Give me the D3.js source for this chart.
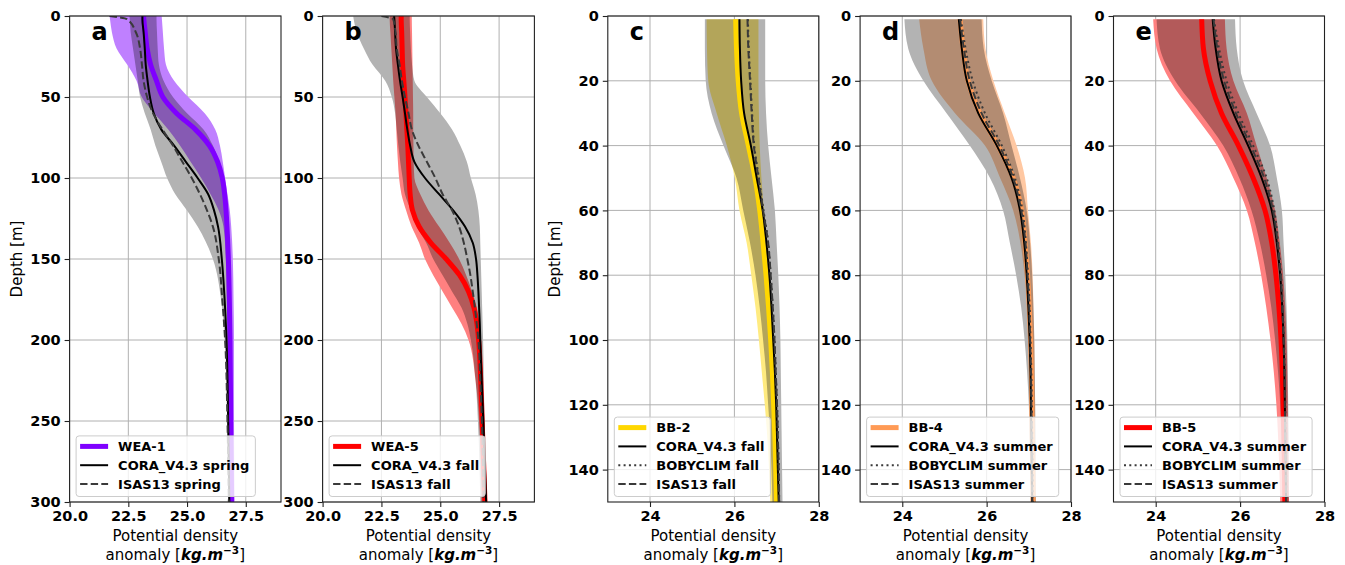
<!DOCTYPE html>
<html><head><meta charset="utf-8">
<script src="https://cdn.jsdelivr.net/npm/d3@7"></script>
<style>
body{margin:0;background:#fff;}
svg text{font-family:"DejaVu Sans",sans-serif;}
</style></head><body>
<svg id="chart" width="1345" height="565"></svg>
<script>
// ---------------- DATA ----------------
// Panels a & b: x 20–29, depth 0–300
const xTicksAB = [20, 22.5, 25, 27.5];
const xTickLabelsAB = ["20.0", "22.5", "25.0", "27.5"];
const yTicksAB = [0, 50, 100, 150, 200, 250, 300];
// Panels c, d, e: x 23–28, depth 0–150
const xTicksCDE = [24, 26, 28];
const xTickLabelsCDE = ["24", "26", "28"];
const yTicksCDE = [0, 20, 40, 60, 80, 100, 120, 140];

// Panel a (WEA-1, spring)
const depthA  = [0, 2, 10, 20, 30, 40, 50, 60, 70, 80, 90, 100, 110, 120, 130, 150, 175, 200, 250, 300];
const wea1    = [23.15, 23.16, 23.22, 23.3, 23.45, 23.7, 23.97, 24.55, 25.35, 25.95, 26.3, 26.5, 26.6, 26.66, 26.7, 26.76, 26.8, 26.83, 26.86, 26.9];
const wea1Lo  = [21.7, 21.72, 21.8, 22.0, 22.45, 22.85, 23.07, 23.6, 24.2, 24.7, 25.15, 25.6, 26.0, 26.35, 26.55, 26.65, 26.7, 26.72, 26.75, 26.78];
const wea1Hi  = [23.92, 23.93, 23.97, 24.02, 24.1, 24.45, 25.05, 25.75, 26.2, 26.4, 26.52, 26.62, 26.72, 26.82, 26.88, 26.95, 26.98, 27.0, 27.0, 27.02];
const coraA   = [23.1, 23.1, 23.15, 23.2, 23.24, 23.32, 23.42, 23.58, 23.9, 24.45, 24.95, 25.45, 25.9, 26.15, 26.32, 26.48, 26.6, 26.68, 26.75, 26.8];
const coraALo = [22.55, 22.56, 22.6, 22.7, 22.8, 22.9, 23.0, 23.2, 23.45, 23.65, 23.9, 24.15, 24.5, 25.0, 25.45, 26.1, 26.45, 26.6, 26.72, 26.75];
const coraAHi = [23.7, 23.7, 23.72, 23.75, 23.8, 24.0, 24.4, 25.0, 25.7, 26.1, 26.35, 26.5, 26.6, 26.68, 26.72, 26.78, 26.82, 26.85, 26.87, 26.9];
const isasA   = [21.7, 22.45, 22.82, 23.0, 23.08, 23.15, 23.3, 23.55, 23.95, 24.4, 24.8, 25.2, 25.55, 25.85, 26.1, 26.35, 26.5, 26.62, 26.72, 26.78];

// Panel b (WEA-5, fall)
const depthB  = [0, 2, 10, 20, 30, 40, 50, 60, 70, 80, 90, 100, 110, 120, 130, 140, 150, 160, 170, 180, 190, 200, 225, 250, 300];
const wea5    = [23.34, 23.34, 23.36, 23.38, 23.4, 23.45, 23.5, 23.54, 23.58, 23.62, 23.65, 23.68, 23.72, 23.82, 24.1, 24.6, 25.25, 25.82, 26.2, 26.43, 26.56, 26.63, 26.72, 26.78, 26.9];
const wea5Lo  = [22.85, 22.85, 22.88, 22.92, 22.96, 23.0, 23.05, 23.1, 23.13, 23.16, 23.2, 23.25, 23.35, 23.55, 23.78, 24.1, 24.35, 24.7, 25.1, 25.5, 25.9, 26.2, 26.5, 26.65, 26.75];
const wea5Hi  = [23.79, 23.79, 23.8, 23.81, 23.82, 23.83, 23.84, 23.85, 23.85, 23.86, 23.87, 23.9, 24.15, 24.5, 24.95, 25.4, 25.8, 26.1, 26.35, 26.55, 26.65, 26.72, 26.8, 26.85, 26.95];
const coraB   = [23.04, 23.05, 23.08, 23.12, 23.2, 23.29, 23.4, 23.5, 23.6, 23.72, 23.9, 24.35, 24.95, 25.55, 26.05, 26.38, 26.52, 26.58, 26.62, 26.65, 26.68, 26.7, 26.76, 26.83, 26.95];
const coraBLo = [21.3, 21.32, 21.45, 21.75, 22.12, 22.66, 22.94, 23.08, 23.15, 23.22, 23.3, 23.4, 23.5, 23.75, 24.0, 24.4, 24.7, 25.1, 25.5, 25.9, 26.15, 26.3, 26.5, 26.6, 26.7];
const coraBHi = [23.7, 23.7, 23.72, 23.75, 23.8, 23.9, 24.43, 25.0, 25.5, 25.85, 26.13, 26.3, 26.5, 26.62, 26.68, 26.7, 26.72, 26.74, 26.76, 26.78, 26.8, 26.82, 26.85, 26.88, 26.95];
const isasB   = [22.5, 23.0, 23.1, 23.15, 23.27, 23.37, 23.5, 23.65, 23.79, 24.07, 24.43, 24.79, 25.1, 25.5, 25.8, 26.0, 26.15, 26.28, 26.38, 26.47, 26.55, 26.62, 26.7, 26.77, 26.84];

// Panels c, d, e share the same depth levels
const depthCDE = [1, 10, 20, 30, 40, 50, 60, 70, 80, 90, 100, 110, 120, 130, 140, 150];

// Panel c (BB-2, fall)
const bb2     = [26.03, 26.05, 26.09, 26.17, 26.33, 26.49, 26.6, 26.68, 26.75, 26.81, 26.86, 26.9, 26.93, 26.96, 26.98, 27.0];
const bb2Lo   = [25.34, 25.35, 25.38, 25.58, 25.82, 26.01, 26.12, 26.29, 26.4, 26.5, 26.58, 26.65, 26.72, 26.78, 26.82, 26.85];
const bb2Hi   = [26.57, 26.57, 26.57, 26.58, 26.6, 26.64, 26.7, 26.76, 26.82, 26.87, 26.92, 26.96, 27.0, 27.02, 27.04, 27.05];
const coraC   = [26.12, 26.13, 26.16, 26.23, 26.39, 26.53, 26.67, 26.76, 26.83, 26.88, 26.92, 26.96, 26.99, 27.01, 27.03, 27.05];
const coraCLo = [25.3, 25.3, 25.32, 25.46, 25.74, 26.05, 26.21, 26.37, 26.5, 26.6, 26.68, 26.75, 26.8, 26.85, 26.88, 26.9];
const coraCHi = [26.73, 26.73, 26.73, 26.75, 26.8, 26.88, 26.96, 27.0, 27.04, 27.07, 27.09, 27.1, 27.11, 27.12, 27.13, 27.14];
const bobyC   = [26.32, 26.34, 26.38, 26.42, 26.47, 26.58, 26.69, 26.8, 26.86, 26.91, 26.95, 26.98, 27.01, 27.03, 27.05, 27.06];
const isasC   = [26.31, 26.33, 26.37, 26.41, 26.46, 26.57, 26.68, 26.8, 26.86, 26.91, 26.95, 26.98, 27.01, 27.03, 27.05, 27.06];

// Panel d (BB-4, summer)
const bb4     = [25.37, 25.44, 25.56, 25.84, 26.27, 26.63, 26.83, 26.91, 26.97, 27.01, 27.04, 27.06, 27.07, 27.08, 27.09, 27.1];
const bb4Lo   = [24.4, 24.5, 24.7, 25.25, 25.96, 26.32, 26.63, 26.8, 26.9, 26.97, 27.0, 27.02, 27.04, 27.05, 27.06, 27.07];
const bb4Hi   = [25.92, 25.97, 26.16, 26.43, 26.71, 26.91, 26.98, 27.05, 27.09, 27.11, 27.13, 27.14, 27.15, 27.15, 27.16, 27.16];
const coraD   = [25.34, 25.41, 25.53, 25.8, 26.24, 26.59, 26.79, 26.89, 26.95, 26.99, 27.02, 27.04, 27.05, 27.06, 27.07, 27.08];
const coraDLo = [24.05, 24.14, 24.5, 25.05, 25.6, 26.08, 26.39, 26.55, 26.7, 26.82, 26.9, 26.96, 27.0, 27.02, 27.04, 27.05];
const coraDHi = [25.88, 25.93, 26.12, 26.39, 26.59, 26.79, 26.95, 27.03, 27.08, 27.11, 27.13, 27.14, 27.15, 27.16, 27.16, 27.17];
const bobyD   = [25.39, 25.5, 25.67, 25.96, 26.36, 26.67, 26.85, 26.93, 26.98, 27.02, 27.04, 27.06, 27.07, 27.08, 27.09, 27.09];
const isasD   = [25.37, 25.46, 25.6, 25.88, 26.3, 26.63, 26.82, 26.92, 26.97, 27.01, 27.03, 27.05, 27.06, 27.07, 27.08, 27.08];

// Panel e (BB-5, summer)
const bb5     = [25.09, 25.13, 25.29, 25.56, 25.96, 26.31, 26.59, 26.75, 26.85, 26.92, 26.97, 27.0, 27.02, 27.04, 27.05, 27.06];
const bb5Lo   = [23.94, 24.02, 24.34, 24.89, 25.45, 25.84, 26.16, 26.35, 26.5, 26.62, 26.72, 26.8, 26.86, 26.9, 26.93, 26.95];
const bb5Hi   = [25.64, 25.68, 25.84, 26.16, 26.39, 26.63, 26.83, 26.94, 27.02, 27.07, 27.1, 27.12, 27.13, 27.14, 27.15, 27.16];
const coraE   = [25.35, 25.42, 25.56, 25.84, 26.19, 26.51, 26.75, 26.87, 26.95, 27.0, 27.03, 27.05, 27.06, 27.07, 27.08, 27.09];
const coraELo = [24.02, 24.1, 24.46, 25.05, 25.6, 25.98, 26.27, 26.47, 26.62, 26.74, 26.83, 26.9, 26.95, 26.98, 27.0, 27.02];
const coraEHi = [25.88, 25.92, 26.07, 26.39, 26.71, 26.87, 26.99, 27.03, 27.07, 27.1, 27.12, 27.13, 27.14, 27.15, 27.15, 27.16];
const bobyE   = [25.38, 25.5, 25.68, 25.96, 26.31, 26.63, 26.81, 26.9, 26.97, 27.01, 27.04, 27.06, 27.07, 27.08, 27.09, 27.1];
const isasE   = [25.37, 25.46, 25.62, 25.9, 26.25, 26.57, 26.78, 26.89, 26.96, 27.0, 27.03, 27.05, 27.06, 27.07, 27.08, 27.09];

// ---------------- PANEL CONFIG ----------------
const TOP = 16, BOTTOM = 502;
const panels = [
  {letter:"a", left:69.6, right:281, xDomain:[20,29], xTicks:xTicksAB, xLabels:xTickLabelsAB, yDomain:[0,300], yTicks:yTicksAB, yLabel:true,
   depth:depthA, main:{v:wea1, lo:wea1Lo, hi:wea1Hi, color:"#7f00ff", band:"#bf80ff", label:"WEA-1"},
   cora:{v:coraA, lo:coraALo, hi:coraAHi, label:"CORA_V4.3 spring"}, boby:null, isas:{v:isasA, label:"ISAS13 spring"}},
  {letter:"b", left:322.6, right:534.4, xDomain:[20,29], xTicks:xTicksAB, xLabels:xTickLabelsAB, yDomain:[0,300], yTicks:yTicksAB, yLabel:false,
   depth:depthB, main:{v:wea5, lo:wea5Lo, hi:wea5Hi, color:"#ff0000", band:"#ff8080", label:"WEA-5"},
   cora:{v:coraB, lo:coraBLo, hi:coraBHi, label:"CORA_V4.3 fall"}, boby:null, isas:{v:isasB, label:"ISAS13 fall"}},
  {letter:"c", left:607.8, right:818.8, xDomain:[23,28], xTicks:xTicksCDE, xLabels:xTickLabelsCDE, yDomain:[0,150], yTicks:yTicksCDE, yLabel:true,
   depth:depthCDE, main:{v:bb2, lo:bb2Lo, hi:bb2Hi, color:"#ffd700", band:"#ffeb80", label:"BB-2"},
   cora:{v:coraC, lo:coraCLo, hi:coraCHi, label:"CORA_V4.3 fall"}, boby:{v:bobyC, label:"BOBYCLIM fall"}, isas:{v:isasC, label:"ISAS13 fall"}},
  {letter:"d", left:860.1, right:1071, xDomain:[23,28], xTicks:xTicksCDE, xLabels:xTickLabelsCDE, yDomain:[0,150], yTicks:yTicksCDE, yLabel:false,
   depth:depthCDE, main:{v:bb4, lo:bb4Lo, hi:bb4Hi, color:"#ff9a55", band:"#ffc8a2", label:"BB-4"},
   cora:{v:coraD, lo:coraDLo, hi:coraDHi, label:"CORA_V4.3 summer"}, boby:{v:bobyD, label:"BOBYCLIM summer"}, isas:{v:isasD, label:"ISAS13 summer"}},
  {letter:"e", left:1113.5, right:1324.5, xDomain:[23,28], xTicks:xTicksCDE, xLabels:xTickLabelsCDE, yDomain:[0,150], yTicks:yTicksCDE, yLabel:false,
   depth:depthCDE, main:{v:bb5, lo:bb5Lo, hi:bb5Hi, color:"#ff0000", band:"#ff8080", label:"BB-5"},
   cora:{v:coraE, lo:coraELo, hi:coraEHi, label:"CORA_V4.3 summer"}, boby:{v:bobyE, label:"BOBYCLIM summer"}, isas:{v:isasE, label:"ISAS13 summer"}}
];

const svg = d3.select("#chart");
svg.append("rect").attr("width",1345).attr("height",565).attr("fill","#fff");
const defs = svg.append("defs");

const GRAY_BAND = "#b3b3b3";
const DASH_COLOR = "#3a3a3a";

panels.forEach((p, pi) => {
  const x = d3.scaleLinear().domain(p.xDomain).range([p.left, p.right]);
  const y = d3.scaleLinear().domain(p.yDomain).range([TOP, BOTTOM]);
  const g = svg.append("g");
  const clipId = "clip" + pi;
  defs.append("clipPath").attr("id", clipId).append("rect")
    .attr("x", p.left).attr("y", TOP).attr("width", p.right - p.left).attr("height", BOTTOM - TOP);

  // grid
  const grid = g.append("g");
  p.xTicks.forEach(t => grid.append("line").attr("x1", x(t)).attr("x2", x(t)).attr("y1", TOP).attr("y2", BOTTOM)
    .attr("stroke", "#b0b0b0").attr("stroke-width", 1));
  p.yTicks.forEach(t => grid.append("line").attr("x1", p.left).attr("x2", p.right).attr("y1", y(t)).attr("y2", y(t))
    .attr("stroke", "#b0b0b0").attr("stroke-width", 1));

  const plot = g.append("g").attr("clip-path", `url(#${clipId})`);
  const idx = d3.range(p.depth.length);
  const area = (lo, hi) => d3.area().curve(d3.curveMonotoneY)
      .y(i => y(p.depth[i])).x0(i => x(lo[i])).x1(i => x(hi[i]))(idx);
  const line = (v) => d3.line().curve(d3.curveMonotoneY)
      .y(i => y(p.depth[i])).x(i => x(v[i]))(idx);

  // bands
  plot.append("path").attr("d", area(p.cora.lo, p.cora.hi)).attr("fill", GRAY_BAND);
  plot.append("path").attr("d", area(p.main.lo, p.main.hi)).attr("fill", p.main.band)
    .style("mix-blend-mode", "multiply");

  // lines
  plot.append("path").attr("d", line(p.main.v)).attr("fill", "none").attr("stroke", p.main.color).attr("stroke-width", 5);
  plot.append("path").attr("d", line(p.cora.v)).attr("fill", "none").attr("stroke", "#000").attr("stroke-width", 2);
  if (p.boby) plot.append("path").attr("d", line(p.boby.v)).attr("fill", "none").attr("stroke", DASH_COLOR)
      .attr("stroke-width", 2).attr("stroke-dasharray", "2,3.3");
  plot.append("path").attr("d", line(p.isas.v)).attr("fill", "none").attr("stroke", DASH_COLOR)
    .attr("stroke-width", 2).attr("stroke-dasharray", "7.4,3.2");

  // axes
  const yAxis = g.append("g").attr("transform", `translate(${p.left},0)`)
    .call(d3.axisLeft(y).tickValues(p.yTicks).tickSize(5).tickPadding(4).tickFormat(d3.format("d")));
  const xAxis = g.append("g").attr("transform", `translate(0,${BOTTOM})`)
    .call(d3.axisBottom(x).tickValues(p.xTicks).tickSize(5).tickPadding(4).tickFormat((d, i) => p.xLabels[i]));
  [xAxis, yAxis].forEach(a => {
    a.select(".domain").remove();
    a.selectAll(".tick line").attr("stroke", "#222").attr("stroke-width", 1.1);
    a.selectAll(".tick text").attr("fill", "#000").style("font-family", "DejaVu Sans")
      .style("font-size", "14.5px").style("font-weight", "bold");
  });

  // spines
  g.append("rect").attr("x", p.left).attr("y", TOP).attr("width", p.right - p.left).attr("height", BOTTOM - TOP)
    .attr("fill", "none").attr("stroke", "#222").attr("stroke-width", 1.1);

  // panel letter
  g.append("text").attr("x", p.left + 22).attr("y", 40).text(p.letter)
    .style("font-size", "24px").style("font-weight", "bold").attr("fill", "#000");

  // x label
  const cx = (p.left + p.right) / 2;
  g.append("text").attr("x", cx).attr("y", 541).attr("text-anchor", "middle")
    .style("font-size", "15px").attr("fill", "#000").text("Potential density");
  const t2 = g.append("text").attr("x", cx).attr("y", 560).attr("text-anchor", "middle")
    .style("font-size", "15px").attr("fill", "#000");
  t2.append("tspan").text("anomaly [");
  t2.append("tspan").style("font-weight", "bold").style("font-style", "italic").text("kg.m");
  t2.append("tspan").style("font-weight", "bold").style("font-size", "10.5px").attr("dy", -6).text("\u22123");
  t2.append("tspan").attr("dy", 6).text("]");

  // y label
  if (p.yLabel) {
    g.append("text").attr("transform", `translate(${p.left - 48},${(TOP + BOTTOM) / 2}) rotate(-90)`)
      .attr("text-anchor", "middle").style("font-size", "15px").attr("fill", "#000").text("Depth [m]");
  }

  // legend
  const items = [{label:p.main.label, color:p.main.color, w:5, dash:null},
                 {label:p.cora.label, color:"#000", w:2, dash:null}];
  if (p.boby) items.push({label:p.boby.label, color:DASH_COLOR, w:2, dash:"2,3.3"});
  items.push({label:p.isas.label, color:DASH_COLOR, w:2, dash:"7.4,3.2"});
  const rowH = 18.8;
  const boxLeft = p.left + 6.5;
  const boxBottom = BOTTOM - 5.5;
  const boxH = 10.5 + (items.length - 1) * rowH + 12.5;
  const boxTop = boxBottom - boxH;
  const lg = g.append("g");
  const box = lg.append("rect").attr("x", boxLeft).attr("y", boxTop).attr("height", boxH)
    .attr("rx", 3).attr("fill", "#fff").attr("fill-opacity", 0.8).attr("stroke", "#cccccc").attr("stroke-width", 1);
  let maxW = 0;
  items.forEach((it, i) => {
    const ry = boxTop + 10.5 + i * rowH;
    const ln = lg.append("line").attr("x1", boxLeft + 4).attr("x2", boxLeft + 32).attr("y1", ry).attr("y2", ry)
      .attr("stroke", it.color).attr("stroke-width", it.w);
    if (it.dash) ln.attr("stroke-dasharray", it.dash);
    const tx = lg.append("text").attr("x", boxLeft + 42).attr("y", ry).attr("dy", "0.36em")
      .style("font-size", "13px").style("font-weight", "bold").attr("fill", "#000").text(it.label);
    maxW = Math.max(maxW, tx.node().getComputedTextLength());
  });
  box.attr("width", 42 + maxW + 6);
});
</script>
</body></html>
